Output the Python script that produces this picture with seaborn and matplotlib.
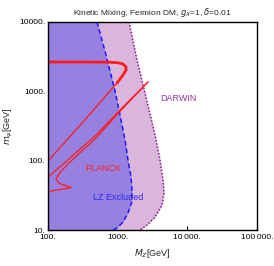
import numpy as np
import pandas as pd
import seaborn as sns
import matplotlib.pyplot as plt

# LZ exclusion boundary (M_Z' [GeV], m_psi [GeV])
lz_M = [505, 680, 915, 1080, 1274, 1406, 1553, 1606, 1579, 1406, 1193, 977, 857]
lz_m = [10000, 3340, 1010, 456, 199, 102, 58, 37.7, 24.5, 17.6, 13.0, 10.7, 10]

# DARWIN projected boundary
dw_M = [1455, 1895, 2466, 3433, 3790, 4052, 4477, 4625, 4327, 3433, 2636, 2092]
dw_m = [10000, 2830, 946, 234, 143, 102, 52.6, 34.2, 22.9, 15.4, 11.8, 10]

# PLANCK relic density contour: plateau + hook + diagonal branch
pl_hook_M = [100, 288, 776, 1012, 1193, 1318, 1318, 1193, 977]
pl_hook_m = [2650, 2650, 2630, 2580, 2477, 2244, 2030, 1722, 1318]
pl_diag_M = [977, 318, 100]
pl_diag_m = [1318, 361, 99]

# resonance branches (m_psi ~ M_Z'/2)
res_up_M = [2723, 1080, 489, 207, 100]
res_up_m = [1365, 538, 234, 109, 58]
res_lo_M = [2723, 1080, 489, 207, 149, 130, 145, 214, 160, 100]
res_lo_m = [1365, 515, 212, 95.7, 68.0, 54.4, 47.0, 41.0, 38.8, 35.9]

x_ticks = [100, 1000, 10000, 100000]
x_labels = ["100.", "1000.", "10\u2009000.", "100\u2009000."]
y_ticks = [10, 100, 1000, 10000]
y_labels = ["10.", "100.", "1000.", "10000."]

sns.set_theme(style="white")
plt.rcParams['font.family'] = ['Liberation Sans', 'DejaVu Sans']
plt.rcParams['mathtext.fontset'] = 'dejavusans'

fig = plt.figure(figsize=(2.74, 2.66), dpi=100)
ax = fig.add_axes([0.1752, 0.1353, 0.7628, 0.782])
ax.set_xscale('log')
ax.set_yscale('log')

# shaded regions
ax.fill_betweenx(dw_m, 100, dw_M, color="#dab5dc", lw=0)
ax.fill_betweenx(lz_m, 100, lz_M, color="#9680e0", lw=0)

def curve(xs, ys, **kw):
    df = pd.DataFrame({"x": xs, "y": ys})
    sns.lineplot(data=df, x="x", y="y", sort=False, estimator=None, ax=ax, **kw)

curve(lz_M, lz_m, color="#1a1aff", lw=1.1, linestyle=(0, (3, 2)))
curve(dw_M, dw_m, color="#8a1a90", lw=1.1, linestyle=(0, (1, 1.2)))
curve(pl_hook_M, pl_hook_m, color="#ff1a1a", lw=2.0)
curve(pl_diag_M, pl_diag_m, color="#ff1a1a", lw=0.9)
curve(res_up_M, res_up_m, color="#ff1a1a", lw=0.9)
curve(res_lo_M, res_lo_m, color="#ff1a1a", lw=0.9)

ax.set_xlim(100, 100000)
ax.set_ylim(10, 10000)
ax.set_xticks(x_ticks)
ax.set_xticklabels(x_labels)
ax.set_yticks(y_ticks)
ax.set_yticklabels(y_labels)
ax.minorticks_off()
ax.tick_params(direction='in', length=3, width=0.8, labelsize=6, pad=2,
               colors='black', bottom=True, left=True)
ax.tick_params(axis='x', pad=3)
for s in ax.spines.values():
    s.set_color('black')
    s.set_linewidth(1.0)

ax.set_xlabel("$M_Z$[GeV]", fontsize=6.5, labelpad=4)
ax.set_ylabel("$m_\\psi$[GeV]", fontsize=6.5, labelpad=3)
ax.set_title("Kinetic Mixing, Fermion DM, $g_X$=1, $\\delta$=0.01", fontsize=6, pad=5)

ax.text(615, 78, "PLANCK", color="#ff2020", fontsize=6.5, ha='center', va='center')
ax.text(1010, 29, "LZ Excluded", color="#2a2aee", fontsize=6.5, ha='center', va='center')
ax.text(7350, 800, "DARWIN", color="#993399", fontsize=6.5, ha='center', va='center')

fig.savefig("out.png", dpi=100)
